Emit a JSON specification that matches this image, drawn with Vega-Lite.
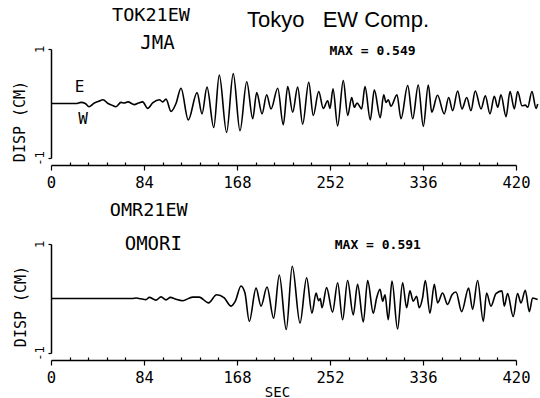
{
  "$schema": "https://vega.github.io/schema/vega-lite/v6.json",
  "background": "white",
  "padding": {"left": 12, "top": 5, "right": 0, "bottom": 0},
  "spacing": 86,
  "bounds": "flush",
  "config": {
    "view": {"stroke": null},
    "axis": {
      "grid": false,
      "domainColor": "black",
      "domainWidth": 1.5,
      "tickColor": "black",
      "tickWidth": 1.2,
      "labelColor": "black",
      "titleColor": "black",
      "labelFont": "DejaVu Sans Mono",
      "titleFont": "DejaVu Sans Mono",
      "titleFontWeight": "normal",
      "labelOverlap": false
    },
    "text": {"color": "black", "fill": "black", "align": "center", "baseline": "alphabetic"}
  },
  "datasets": {
    "jma": [
      {"t": 0, "v": 0}, {"t": 22.6, "v": 0}, {"t": 27.1, "v": 0.02}, {"t": 31, "v": 0.0}, {"t": 34.3, "v": -0.06},
      {"t": 38.8, "v": 0.005}, {"t": 43, "v": 0.04}, {"t": 47, "v": 0.07}, {"t": 51.5, "v": 0}, {"t": 55, "v": -0.03},
      {"t": 58.7, "v": -0.06}, {"t": 63.2, "v": 0.02}, {"t": 66, "v": 0.01}, {"t": 69.5, "v": 0.03}, {"t": 75.2, "v": -0.02},
      {"t": 79, "v": 0.01}, {"t": 82.8, "v": 0.03}, {"t": 87.3, "v": -0.09}, {"t": 92.1, "v": 0.015}, {"t": 97.8, "v": 0.07},
      {"t": 100.9, "v": 0.03}, {"t": 103.9, "v": 0.08}, {"t": 108.4, "v": -0.145}, {"t": 112.9, "v": 0}, {"t": 117.4, "v": 0.28},
      {"t": 124, "v": -0.30}, {"t": 131.9, "v": 0.20}, {"t": 136.4, "v": -0.19}, {"t": 140.9, "v": 0.30}, {"t": 147, "v": -0.44},
      {"t": 152, "v": 0.52}, {"t": 158.6, "v": -0.53}, {"t": 164.6, "v": 0.549}, {"t": 170.7, "v": -0.50}, {"t": 176.8, "v": 0.40},
      {"t": 182.2, "v": -0.28}, {"t": 185.8, "v": 0.20}, {"t": 190.6, "v": -0.19}, {"t": 194.8, "v": 0.16}, {"t": 198.7, "v": -0.10},
      {"t": 204.8, "v": 0.28}, {"t": 209.8, "v": -0.39}, {"t": 213.8, "v": 0.31}, {"t": 218.3, "v": -0.16}, {"t": 222.8, "v": 0.30},
      {"t": 227.3, "v": -0.38}, {"t": 232.8, "v": 0.39}, {"t": 236.9, "v": -0.22}, {"t": 241.8, "v": 0.22}, {"t": 245.9, "v": -0.09},
      {"t": 249.9, "v": 0.05}, {"t": 252, "v": -0.09}, {"t": 254.7, "v": 0.27}, {"t": 258.9, "v": -0.41}, {"t": 264, "v": 0.42},
      {"t": 268, "v": -0.22}, {"t": 271.6, "v": 0.11}, {"t": 274, "v": -0.07}, {"t": 276.4, "v": 0.01}, {"t": 280.6, "v": -0.10},
      {"t": 283.6, "v": 0.31}, {"t": 288.4, "v": -0.30}, {"t": 292, "v": 0.25}, {"t": 297.4, "v": -0.26}, {"t": 300.5, "v": 0.16},
      {"t": 302.6, "v": 0.02}, {"t": 304.6, "v": 0.07}, {"t": 307.1, "v": -0.05}, {"t": 312.5, "v": 0.16}, {"t": 316.1, "v": -0.28},
      {"t": 322.2, "v": 0.33}, {"t": 326.7, "v": -0.28}, {"t": 331.7, "v": 0.34}, {"t": 336.3, "v": -0.42}, {"t": 340.8, "v": 0.34},
      {"t": 343.9, "v": -0.16}, {"t": 349.1, "v": 0.15}, {"t": 355.2, "v": -0.19}, {"t": 359.2, "v": 0.11}, {"t": 362.8, "v": -0.13},
      {"t": 367.3, "v": 0.23}, {"t": 371.2, "v": -0.10}, {"t": 375.5, "v": 0.11}, {"t": 379.3, "v": -0.13}, {"t": 383.2, "v": 0.23},
      {"t": 388.4, "v": -0.10}, {"t": 392.3, "v": 0.14}, {"t": 396.5, "v": -0.19}, {"t": 400.4, "v": 0.13}, {"t": 403.5, "v": -0.07},
      {"t": 406.4, "v": 0.16}, {"t": 411, "v": -0.24}, {"t": 414.6, "v": 0.22}, {"t": 418.5, "v": -0.10}, {"t": 421.5, "v": 0.22},
      {"t": 425.4, "v": -0.04}, {"t": 428.4, "v": -0.03}, {"t": 430.6, "v": -0.07}, {"t": 434.4, "v": 0.22}, {"t": 438.1, "v": -0.09},
      {"t": 439.6, "v": -0.01}
    ],
    "omori": [
      {"t": 0, "v": 0}, {"t": 73.4, "v": 0}, {"t": 77, "v": 0.01}, {"t": 81, "v": -0.005}, {"t": 85.8, "v": -0.02},
      {"t": 88.8, "v": 0.02}, {"t": 94.8, "v": -0.03}, {"t": 99.4, "v": 0.03}, {"t": 103.9, "v": -0.025}, {"t": 107.8, "v": 0.02},
      {"t": 112.3, "v": -0.01}, {"t": 118.9, "v": -0.04}, {"t": 127.9, "v": 0.025}, {"t": 133.9, "v": 0.025}, {"t": 142.3, "v": -0.08},
      {"t": 149.6, "v": 0.07}, {"t": 156.5, "v": 0.01}, {"t": 162.6, "v": -0.14}, {"t": 166.5, "v": -0.05}, {"t": 171.6, "v": 0.23},
      {"t": 175.2, "v": 0.10}, {"t": 179.1, "v": -0.42}, {"t": 185.2, "v": 0.19}, {"t": 189.7, "v": -0.14}, {"t": 195.1, "v": 0.21},
      {"t": 201.1, "v": -0.36}, {"t": 206.2, "v": 0.43}, {"t": 212.5, "v": -0.57}, {"t": 217.9, "v": 0.591}, {"t": 224.9, "v": -0.45},
      {"t": 230.9, "v": 0.38}, {"t": 235.7, "v": -0.27}, {"t": 239.4, "v": 0.10}, {"t": 241.7, "v": -0.04}, {"t": 243.2, "v": 0.0},
      {"t": 244.8, "v": -0.17}, {"t": 248.9, "v": 0.20}, {"t": 254.3, "v": -0.25}, {"t": 258.9, "v": 0.29}, {"t": 263.4, "v": -0.39},
      {"t": 267.9, "v": 0.33}, {"t": 273, "v": -0.30}, {"t": 276.9, "v": 0.26}, {"t": 282.1, "v": -0.43}, {"t": 286, "v": 0.33},
      {"t": 291.1, "v": -0.27}, {"t": 294.1, "v": 0.01}, {"t": 297.2, "v": 0.17}, {"t": 299.5, "v": -0.05}, {"t": 301.7, "v": 0.07},
      {"t": 304.6, "v": -0.39}, {"t": 308, "v": 0.32}, {"t": 313, "v": -0.56}, {"t": 317.6, "v": 0.29}, {"t": 321.2, "v": -0.17},
      {"t": 324.2, "v": 0.14}, {"t": 327.2, "v": -0.05}, {"t": 330.2, "v": 0.04}, {"t": 332.6, "v": -0.17}, {"t": 335.6, "v": 0.01},
      {"t": 338.1, "v": 0.33}, {"t": 342.3, "v": -0.27}, {"t": 346.2, "v": 0.26}, {"t": 349.2, "v": -0.08}, {"t": 353.7, "v": 0.10},
      {"t": 358.2, "v": -0.11}, {"t": 362.2, "v": 0.07}, {"t": 365.8, "v": 0.12}, {"t": 370.9, "v": -0.24}, {"t": 377.2, "v": 0.19},
      {"t": 380.8, "v": -0.20}, {"t": 385.3, "v": 0.33}, {"t": 390.5, "v": -0.42}, {"t": 393.4, "v": 0.10}, {"t": 397.4, "v": -0.14},
      {"t": 401.9, "v": 0.09}, {"t": 407.3, "v": 0.14}, {"t": 409.4, "v": -0.14}, {"t": 412.4, "v": 0.09}, {"t": 417.5, "v": -0.33},
      {"t": 421.4, "v": 0.09}, {"t": 424.5, "v": -0.08}, {"t": 428.4, "v": 0.15}, {"t": 432, "v": -0.24}, {"t": 435, "v": 0.01},
      {"t": 439.5, "v": -0.02}
    ],
    "one": [{}]
  },
  "vconcat": [
    {
      "width": 465,
      "height": 109,
      "resolve": {"axis": {"x": "independent"}},
      "layer": [
        {
          "data": {"name": "jma"},
          "mark": {"type": "line", "color": "black", "strokeWidth": 1.6, "interpolate": "monotone"},
          "encoding": {
            "x": {
              "field": "t", "type": "quantitative",
              "scale": {"domain": [0, 420], "nice": false, "zero": false},
              "axis": {
                "orient": "bottom", "title": null, "offset": 7,
                "values": [0, 84, 168, 252, 336, 420],
                "tickSize": 5, "labelFontSize": 15.5, "labelPadding": 5, "labelFlush": false, "labelOverlap": false
              }
            },
            "y": {
              "field": "v", "type": "quantitative",
              "scale": {"domain": [-1, 1], "nice": false, "zero": false},
              "axis": {
                "values": [-1, -0.6667, -0.3333, 0, 0.3333, 0.6667, 1],
                "labelExpr": "datum.value == 1 ? '1' : (datum.value == -1 ? '-1' : '')",
                "tickSize": 3, "labelAngle": 270, "labelAlign": "center", "labelBaseline": "bottom",
                "labelFontSize": 12, "labelPadding": 2, "labelFlush": false, "labelOverlap": false,
                "title": "DISP (CM)", "titleFontSize": 15, "titleAngle": 270,
                "titleX": -32, "titleY": 72, "titleAlign": "center", "titleBaseline": "middle"
              }
            }
          }
        },
        {"data": {"name": "one"},
         "mark": {"type": "text", "text": "TOK21EW", "font": "DejaVu Sans Mono", "fontSize": 18.5, "fill": "black"},
         "encoding": {
           "x": {"datum": 90.3, "type": "quantitative", "axis": {
             "orient": "bottom", "title": null, "offset": 7, "domain": false, "labels": false, "tickSize": -3,
             "values": [16.8,33.6,50.4,67.2,100.8,117.6,134.4,151.2,184.8,201.6,218.4,235.2,268.8,285.6,302.4,319.2,352.8,369.6,386.4,403.2]}},
           "y": {"datum": 1.52, "type": "quantitative"}}},
        {"data": {"name": "one"},
         "mark": {"type": "text", "text": "JMA", "font": "DejaVu Sans Mono", "fontSize": 19, "fill": "black"},
         "encoding": {"x": {"datum": 96.2, "type": "quantitative", "axis": null}, "y": {"datum": 1.0, "type": "quantitative"}}},
        {"data": {"name": "one"},
         "mark": {"type": "text", "text": "Tokyo\u00a0\u00a0\u00a0EW Comp.", "font": "Liberation Sans", "fontSize": 22, "fill": "black"},
         "encoding": {"x": {"datum": 259.2, "type": "quantitative", "axis": null}, "y": {"datum": 1.396, "type": "quantitative"}}},
        {"data": {"name": "one"},
         "mark": {"type": "text", "text": "MAX = 0.549", "font": "DejaVu Sans Mono", "fontSize": 13, "fontWeight": "bold", "fill": "black"},
         "encoding": {"x": {"datum": 290.4, "type": "quantitative", "axis": null}, "y": {"datum": 0.89, "type": "quantitative"}}},
        {"data": {"name": "one"},
         "mark": {"type": "text", "text": "E", "font": "DejaVu Sans Mono", "fontSize": 16, "fill": "black"},
         "encoding": {"x": {"datum": 25.7, "type": "quantitative", "axis": null}, "y": {"datum": 0.217, "type": "quantitative"}}},
        {"data": {"name": "one"},
         "mark": {"type": "text", "text": "W", "font": "DejaVu Sans Mono", "fontSize": 16, "fill": "black"},
         "encoding": {"x": {"datum": 28.9, "type": "quantitative", "axis": null}, "y": {"datum": -0.37, "type": "quantitative"}}}
      ]
    },
    {
      "width": 465,
      "height": 109,
      "resolve": {"axis": {"x": "independent"}},
      "layer": [
        {
          "data": {"name": "omori"},
          "mark": {"type": "line", "color": "black", "strokeWidth": 1.6, "interpolate": "monotone"},
          "encoding": {
            "x": {
              "field": "t", "type": "quantitative",
              "scale": {"domain": [0, 420], "nice": false, "zero": false},
              "axis": {
                "orient": "bottom",
                "title": "SEC", "titleFontSize": 14, "titleX": 226, "titleY": 36, "titleBaseline": "alphabetic", "titleAlign": "center",
                "offset": 7,
                "values": [0, 84, 168, 252, 336, 420],
                "tickSize": 5, "labelFontSize": 15.5, "labelPadding": 5, "labelFlush": false, "labelOverlap": false
              }
            },
            "y": {
              "field": "v", "type": "quantitative",
              "scale": {"domain": [-1, 1], "nice": false, "zero": false},
              "axis": {
                "values": [-1, -0.6667, -0.3333, 0, 0.3333, 0.6667, 1],
                "labelExpr": "datum.value == 1 ? '1' : (datum.value == -1 ? '-1' : '')",
                "tickSize": 3, "labelAngle": 270, "labelAlign": "center", "labelBaseline": "bottom",
                "labelFontSize": 12, "labelPadding": 2, "labelFlush": false, "labelOverlap": false,
                "title": "DISP (CM)", "titleFontSize": 15, "titleAngle": 270,
                "titleX": -31, "titleY": 62, "titleAlign": "center", "titleBaseline": "middle"
              }
            }
          }
        },
        {"data": {"name": "one"},
         "mark": {"type": "text", "text": "OMR21EW", "font": "DejaVu Sans Mono", "fontSize": 18.5, "fill": "black"},
         "encoding": {
           "x": {"datum": 88.3, "type": "quantitative", "axis": {
             "orient": "bottom", "title": null, "offset": 7, "domain": false, "labels": false, "tickSize": -3,
             "values": [16.8,33.6,50.4,67.2,100.8,117.6,134.4,151.2,184.8,201.6,218.4,235.2,268.8,285.6,302.4,319.2,352.8,369.6,386.4,403.2]}},
           "y": {"datum": 1.506, "type": "quantitative"}}},
        {"data": {"name": "one"},
         "mark": {"type": "text", "text": "OMORI", "font": "DejaVu Sans Mono", "fontSize": 19, "fill": "black"},
         "encoding": {"x": {"datum": 92.4, "type": "quantitative", "axis": null}, "y": {"datum": 0.894, "type": "quantitative"}}},
        {"data": {"name": "one"},
         "mark": {"type": "text", "text": "MAX = 0.591", "font": "DejaVu Sans Mono", "fontSize": 13, "fontWeight": "bold", "fill": "black"},
         "encoding": {"x": {"datum": 295.2, "type": "quantitative", "axis": null}, "y": {"datum": 0.913, "type": "quantitative"}}}
      ]
    }
  ]
}
